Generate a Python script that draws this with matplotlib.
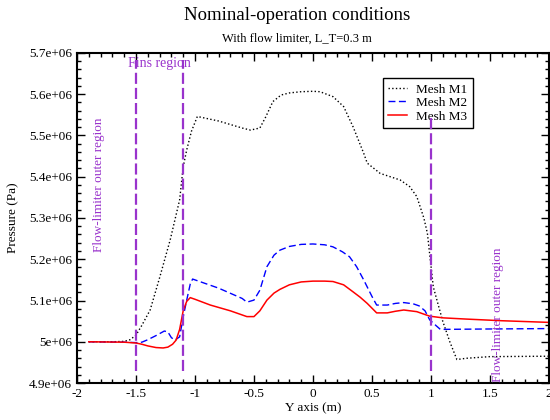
import matplotlib
matplotlib.use("Agg")
import matplotlib.pyplot as plt
from matplotlib.ticker import MultipleLocator, FuncFormatter

plt.rcParams['font.family'] = ['Liberation Serif', 'DejaVu Serif']

# Mesh M1 (black dotted)
m1_x = [-1.9, -1.7, -1.6, -1.55, -1.5, -1.45, -1.38, -1.3, -1.21, -1.13, -1.1, -1.07, -1.03, -0.98,
        -0.8, -0.6, -0.53, -0.45, -0.4, -0.34, -0.27, -0.2, -0.1, 0.0, 0.06, 0.17, 0.26, 0.34,
        0.43, 0.46, 0.57, 0.74, 0.82, 0.88, 0.94, 0.97, 1.02, 1.1, 1.16, 1.22, 1.3, 1.5, 2.0]
m1_p = [5.0, 5.0, 5.001, 5.005, 5.016, 5.04, 5.077, 5.155, 5.247, 5.344, 5.424, 5.465, 5.51, 5.546,
        5.535, 5.518, 5.513, 5.518, 5.545, 5.582, 5.598, 5.603, 5.606, 5.607, 5.606, 5.594, 5.57, 5.521,
        5.457, 5.433, 5.408, 5.392, 5.376, 5.352, 5.3, 5.263, 5.133, 5.05, 5.0, 4.957, 4.96, 4.964, 4.965]

# Mesh M2 (blue dashed)
m2_x = [-1.9, -1.6, -1.5, -1.45, -1.4, -1.33, -1.26, -1.23, -1.2, -1.17, -1.13, -1.1, -1.07, -1.04,
        -1.02, -0.8, -0.6, -0.56, -0.5, -0.45, -0.39, -0.33, -0.28, -0.2, -0.1, 0.0, 0.1, 0.17, 0.25,
        0.31, 0.37, 0.43, 0.5, 0.54, 0.63, 0.7, 0.77, 0.85, 0.9, 0.95, 0.99, 1.04, 1.08, 1.5, 2.0]
m2_p = [5.0, 4.999, 4.998, 4.999, 5.005, 5.015, 5.026, 5.024, 5.01, 5.004, 5.012, 5.06, 5.101, 5.14,
        5.152, 5.13, 5.105, 5.096, 5.101, 5.125, 5.182, 5.21, 5.222, 5.231, 5.236, 5.237, 5.235, 5.23, 5.218,
        5.206, 5.182, 5.15, 5.11, 5.089, 5.089, 5.093, 5.095, 5.092, 5.087, 5.075, 5.053, 5.04, 5.03, 5.031, 5.032]

# Mesh M3 (red solid)
m3_x = [-1.9, -1.6, -1.5, -1.45, -1.4, -1.33, -1.27, -1.23, -1.19, -1.16, -1.13, -1.1, -1.07, -1.04,
        -1.0, -0.87, -0.7, -0.56, -0.5, -0.45, -0.39, -0.33, -0.28, -0.2, -0.1, 0.0, 0.1, 0.17, 0.26,
        0.34, 0.4, 0.46, 0.54, 0.63, 0.7, 0.77, 0.88, 0.99, 1.1, 1.3, 1.6, 2.0]
m3_p = [5.0, 4.999, 4.997, 4.994, 4.99, 4.986, 4.985, 4.987, 4.994, 5.004, 5.03, 5.075, 5.098, 5.107,
        5.103, 5.089, 5.075, 5.061, 5.061, 5.075, 5.101, 5.118, 5.127, 5.138, 5.145, 5.147, 5.147, 5.146, 5.138,
        5.121, 5.108, 5.093, 5.07, 5.07, 5.074, 5.077, 5.073, 5.062, 5.058, 5.055, 5.051, 5.047]

PURPLE = '#9933cc'

fig = plt.figure(figsize=(5.5, 4.2), dpi=100)
ax = fig.add_axes([0.14, 0.088, 0.858, 0.786])

ax.plot(m1_x, [p * 1e6 for p in m1_p], color='black', linestyle=':', lw=1.0, label='Mesh M1')
ax.plot(m2_x, [p * 1e6 for p in m2_p], color='blue', linestyle=(0, (5, 2.5)), lw=1.0, label='Mesh M2')
ax.plot(m3_x, [p * 1e6 for p in m3_p], color='red', linestyle='-', lw=1.1, label='Mesh M3')

# region boundaries (drawn above the legend, like the original)
ax.plot([-1.5, -1.5], [4.93e6, 5.683e6], color=PURPLE, linestyle=(0, (5, 1.8)), lw=1.6, zorder=6)
ax.plot([-1.1, -1.1], [4.93e6, 5.683e6], color=PURPLE, linestyle=(0, (5, 1.8)), lw=1.6, zorder=6)
ax.plot([1.0, 1.0], [4.93e6, 5.55e6], color=PURPLE, linestyle=(0, (5, 1.8)), lw=1.6, zorder=6)

ax.text(-1.3, 5.674e6, 'Fins region', color=PURPLE, fontsize=10, ha='center', va='center')
ax.text(-1.81, 5.38e6, 'Flow-limiter outer region', color=PURPLE, fontsize=9.5,
        rotation=90, ha='center', va='center')
ax.text(1.57, 5.065e6, 'Flow-limiter outer region', color=PURPLE, fontsize=9.5,
        rotation=90, ha='center', va='center')

ax.set_xlim(-2, 2)
ax.set_ylim(4.9e6, 5.7e6)
ax.xaxis.set_major_locator(MultipleLocator(0.5))
ax.xaxis.set_minor_locator(MultipleLocator(0.1))
ax.yaxis.set_major_locator(MultipleLocator(0.1e6))
ax.yaxis.set_minor_locator(MultipleLocator(0.02e6))
fmt = FuncFormatter(lambda v, pos: '%g' % v)
ax.xaxis.set_major_formatter(fmt)
ax.yaxis.set_major_formatter(fmt)
ax.tick_params(which='both', direction='in', top=True, right=True, labelsize=9.5, width=1.0)
ax.tick_params(which='major', length=6)
ax.tick_params(which='minor', length=3)
for s in ax.spines.values():
    s.set_linewidth(1.5)

ax.set_xlabel('Y axis (m)', fontsize=9.5, labelpad=2)
ax.set_ylabel('Pressure (Pa)', fontsize=9.5, labelpad=7)

fig.text(0.54, 0.963, 'Nominal-operation conditions', fontsize=13.5, ha='center', va='center')
fig.text(0.54, 0.907, 'With flow limiter, L_T=0.3 m', fontsize=9, ha='center', va='center')

leg = ax.legend(loc='upper left', bbox_to_anchor=(0.648, 0.924), fontsize=9.5, frameon=True,
                fancybox=False, edgecolor='black', framealpha=1, handlelength=1.4,
                borderpad=0.4, labelspacing=0.1, handletextpad=0.75, borderaxespad=0)
leg.get_frame().set_linewidth(1.0)
leg.set_zorder(5)

fig.savefig('out.png', dpi=100)
